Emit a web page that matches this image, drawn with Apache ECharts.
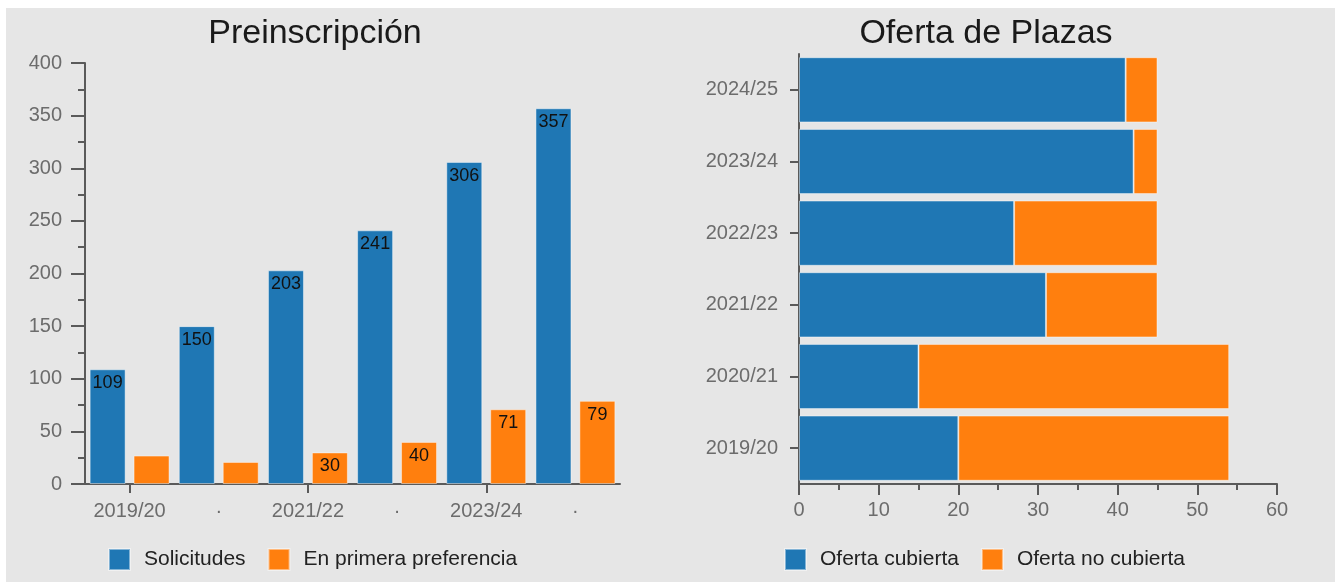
<!DOCTYPE html>
<html>
<head>
<meta charset="utf-8">
<script src="https://cdn.jsdelivr.net/npm/echarts@6/dist/echarts.min.js"></script>
<style>
  html, body { margin: 0; padding: 0; background: #fff; }
  #bg { position: absolute; left: 6px; top: 8px; width: 1329px; height: 574px; background: #e6e6e6; }
  #main { position: absolute; left: 0; top: 0; width: 1335px; height: 582px; }
</style>
</head>
<body>
<div id="bg"></div>
<div id="main"></div>
<script>
// datos de preinscripción
var cursos = ['2019/20', '2020/21', '2021/22', '2022/23', '2023/24', '2024/25'];
var solicitudes = [109, 150, 203, 241, 306, 357];
var primeraPref = [27, 21, 30, 40, 71, 79];

// datos de oferta de plazas
var ofertaCubierta = [20, 15, 31, 27, 42, 41];
var ofertaNoCubierta = [34, 39, 14, 18, 3, 4];

var azul = '#1f77b4';
var naranja = '#ff7f0e';
var gris = '#6c6c6c';
var fuente = 'Liberation Sans, Arial, sans-serif';

var ejeLinea = { show: true, lineStyle: { color: '#5a5a5a', width: 2 } };
var tickStyle = { color: '#5a5a5a', width: 2 };

var chart = echarts.init(document.getElementById('main'));

var option = {
    textStyle: { fontFamily: fuente },
    animation: false,
    title: [{
        text: 'Preinscripción',
        left: 310, top: 12, textAlign: 'center',
        textStyle: { fontSize: 34, fontWeight: 'normal', color: '#1a1a1a', fontFamily: fuente }
    }, {
        text: 'Oferta de Plazas',
        left: 981, top: 12, textAlign: 'center',
        textStyle: { fontSize: 34, fontWeight: 'normal', color: '#1a1a1a', fontFamily: fuente }
    }],
    legend: [{
        data: ['Solicitudes', 'En primera preferencia'],
        left: 103, top: 543,
        itemWidth: 21, itemHeight: 21, itemGap: 22,
        icon: 'rect',
        textStyle: { fontSize: 21, color: '#222', fontFamily: fuente, padding: [0, 0, 0, 9] }
    }, {
        data: ['Oferta cubierta', 'Oferta no cubierta'],
        left: 779, top: 543,
        itemWidth: 21, itemHeight: 21, itemGap: 22,
        icon: 'rect',
        textStyle: { fontSize: 21, color: '#222', fontFamily: fuente, padding: [0, 0, 0, 9] }
    }],
    grid: [
        { left: 85, top: 63, width: 535, height: 421 },
        { left: 799, top: 54, width: 478, height: 430 }
    ],
    xAxis: [{
        type: 'category',
        gridIndex: 0,
        data: cursos,
        axisLine: ejeLinea,
        axisTick: {
            show: true, alignWithLabel: true, length: 9,
            interval: function (i) { return i % 2 === 0; },
            lineStyle: tickStyle
        },
        axisLabel: {
            interval: 0, margin: 17, fontSize: 20, color: gris,
            formatter: function (v, i) { return i % 2 === 0 ? v : '·'; }
        },
        splitLine: { show: false }
    }, {
        type: 'value',
        gridIndex: 1,
        min: 0, max: 60, interval: 10,
        axisLine: ejeLinea,
        axisTick: { show: true, length: 11, lineStyle: tickStyle },
        minorTick: { show: true, splitNumber: 2, length: 6, lineStyle: tickStyle },
        axisLabel: { margin: 16, fontSize: 20, color: gris },
        splitLine: { show: false }
    }],
    yAxis: [{
        type: 'value',
        gridIndex: 0,
        min: 0, max: 400, interval: 50,
        axisLine: ejeLinea,
        axisTick: { show: true, length: 14, lineStyle: tickStyle },
        minorTick: { show: true, splitNumber: 2, length: 7, lineStyle: tickStyle },
        axisLabel: { margin: 23, fontSize: 20, color: gris },
        splitLine: { show: false }
    }, {
        type: 'category',
        gridIndex: 1,
        data: cursos,
        axisLine: ejeLinea,
        axisTick: { show: true, alignWithLabel: true, length: 9, lineStyle: tickStyle },
        axisLabel: { margin: 21, fontSize: 20, color: gris },
        splitLine: { show: false }
    }],
    series: [{
        name: 'Solicitudes',
        type: 'bar',
        xAxisIndex: 0, yAxisIndex: 0,
        data: solicitudes,
        barWidth: 36,
        barGap: '22%',
        itemStyle: { color: azul, borderColor: 'rgba(255,255,255,0.45)', borderWidth: 1 },
        label: {
            show: true, position: 'insideTop', distance: 5,
            fontSize: 18, color: '#111', fontFamily: fuente,
            formatter: function (p) { return p.value >= 30 ? p.value : ''; }
        }
    }, {
        name: 'En primera preferencia',
        type: 'bar',
        xAxisIndex: 0, yAxisIndex: 0,
        data: primeraPref,
        barWidth: 36,
        barGap: '22%',
        itemStyle: { color: naranja, borderColor: 'rgba(255,255,255,0.45)', borderWidth: 1 },
        label: {
            show: true, position: 'insideTop', distance: 5,
            fontSize: 18, color: '#111', fontFamily: fuente,
            formatter: function (p) { return p.value >= 30 ? p.value : ''; }
        }
    }, {
        name: 'Oferta cubierta',
        type: 'bar',
        xAxisIndex: 1, yAxisIndex: 1,
        stack: 'oferta',
        data: ofertaCubierta,
        barCategoryGap: '9%',
        itemStyle: { color: azul, borderColor: 'rgba(255,255,255,0.45)', borderWidth: 1 }
    }, {
        name: 'Oferta no cubierta',
        type: 'bar',
        xAxisIndex: 1, yAxisIndex: 1,
        stack: 'oferta',
        data: ofertaNoCubierta,
        barCategoryGap: '9%',
        itemStyle: { color: naranja, borderColor: 'rgba(255,255,255,0.45)', borderWidth: 1 }
    }]
};

chart.setOption(option);
</script>
</body>
</html>
